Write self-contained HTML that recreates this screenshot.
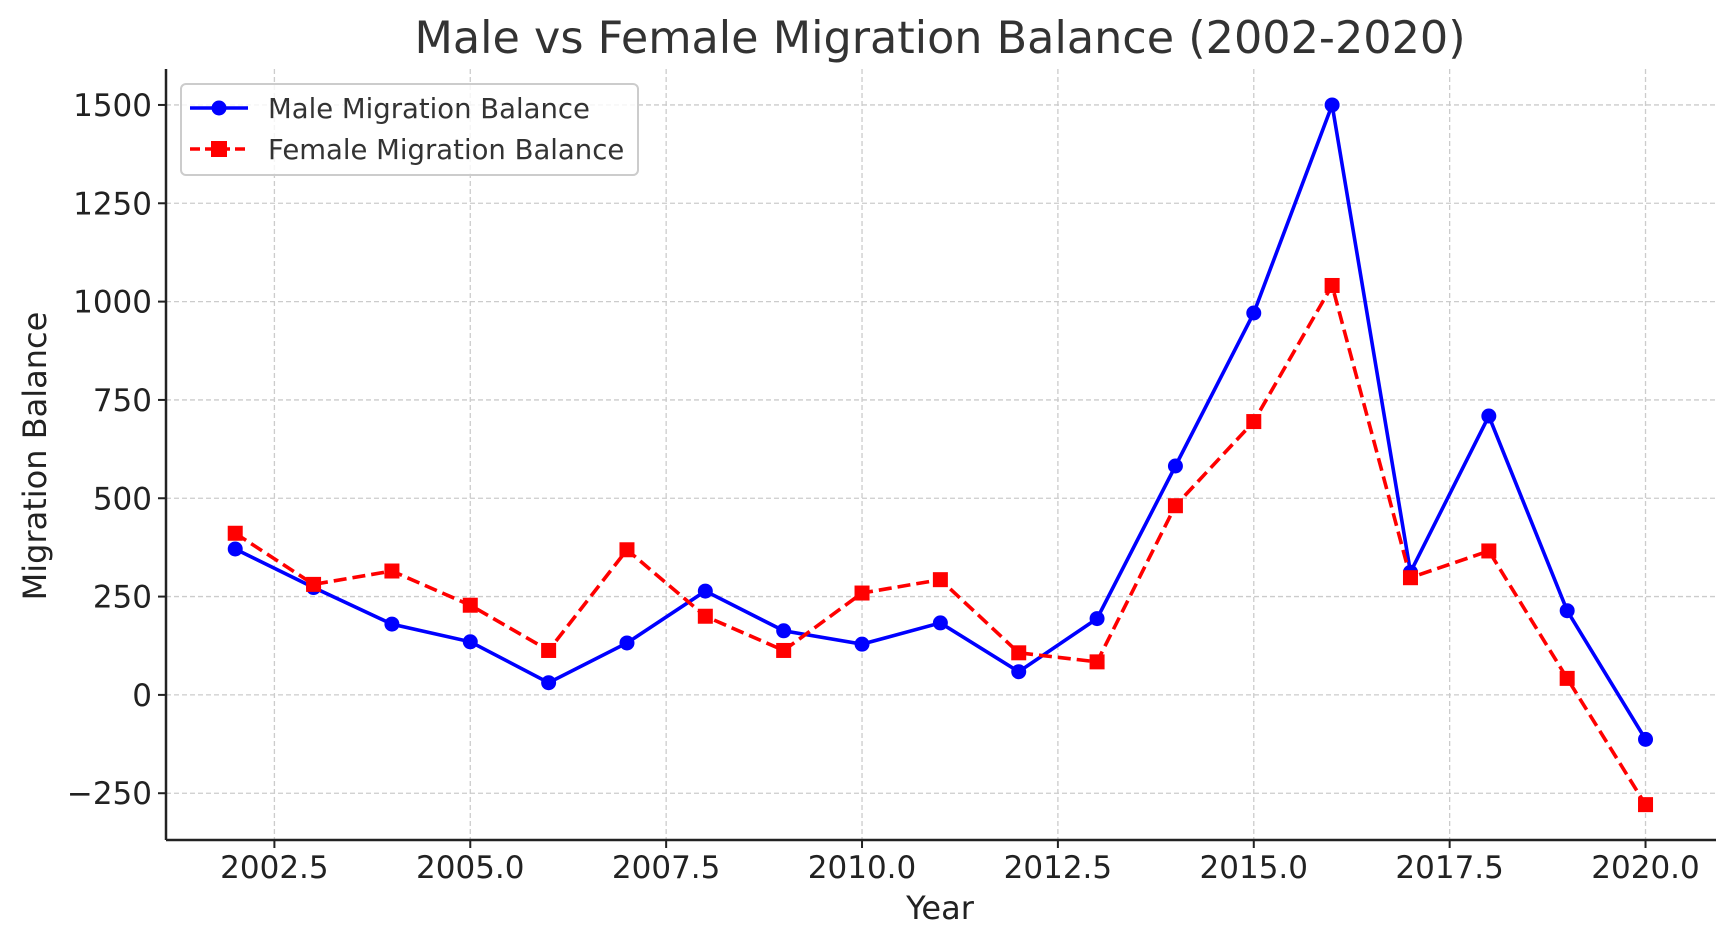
<!DOCTYPE html>
<html><head><meta charset="utf-8"><style>
body{margin:0;background:#fff}
svg{display:block;font-family:"DejaVu Sans","Liberation Sans",sans-serif}
</style></head><body>
<svg id="chart" width="1735" height="947">
<text x="940" y="53" font-size="44.5" text-anchor="middle" fill="#333">Male vs Female Migration Balance (2002-2020)</text>
<g id="grid"></g>
<g id="axes"></g>
<g id="series"></g>
<text x="940" y="919" font-size="32" text-anchor="middle" fill="#222">Year</text>
<text transform="translate(46,456) rotate(-90)" font-size="32" text-anchor="middle" fill="#222">Migration Balance</text>
<g>
<rect x="181" y="84" width="457" height="91" rx="5" fill="#fff" fill-opacity="0.8" stroke="#ccc" stroke-width="2"/>
<g>
<line x1="190" y1="108" x2="248" y2="108" stroke="#0000ff" stroke-width="3.5"/>
<circle cx="219" cy="108" r="7.5" fill="#0000ff"/>
<text x="268" y="118" font-size="27.5" fill="#333">Male Migration Balance</text></g>
<g>
<line x1="190" y1="149" x2="248" y2="149" stroke="#ff0000" stroke-width="3.5" stroke-dasharray="10,5"/>
<rect x="211" y="141" width="16" height="16" fill="#ff0000"/>
<text x="268" y="159" font-size="27.5" fill="#333">Female Migration Balance</text></g>
</g>
</svg>
<script>
const years=[2002,2003,2004,2005,2006,2007,2008,2009,2010,2011,2012,2013,2014,2015,2016,2017,2018,2019,2020];
const maleValues=[371,273,180,135,31,132,264,163,129,183,59,194,582,971,1500,312,709,214,-113];
const femaleValues=[411,281,315,228,113,369,200,113,259,293,107,84,481,695,1041,298,366,42,-279];
const xTicks=[2002.5,2005,2007.5,2010,2012.5,2015,2017.5,2020];
const xTickLabels=["2002.5","2005.0","2007.5","2010.0","2012.5","2015.0","2017.5","2020.0"];
const yTicks=[-250,0,250,500,750,1000,1250,1500];
const yTickLabels=["\u2212250","0","250","500","750","1000","1250","1500"];
const L=166,R=1716,T=69,B=840;
const xs=v=>274.4+(v-2002.5)*78.35;
const ys=v=>694.9-v*0.3933;
const NS="http://www.w3.org/2000/svg";
function mk(tag,attrs,parent){const e=document.createElementNS(NS,tag);for(const k in attrs)e.setAttribute(k,attrs[k]);parent.appendChild(e);return e;}
const grid=document.getElementById('grid'),axes=document.getElementById('axes'),series=document.getElementById('series');
xTicks.forEach((t,i)=>{
 const x=xs(t);
 const g=mk('line',{x1:x,x2:x,y1:T,y2:B,stroke:'#ccc','stroke-width':1.3,'stroke-dasharray':'5,3'},grid);
 
 
 mk('line',{x1:x,x2:x,y1:B,y2:B+8,stroke:'#222','stroke-width':2},axes);
 const tx=mk('text',{x:x,y:B+38,'font-size':31,'text-anchor':'middle',fill:'#222'},axes);
 tx.textContent=xTickLabels[i];
 
 
});
yTicks.forEach((t,i)=>{
 const y=ys(t);
 const g=mk('line',{x1:L,x2:R,y1:y,y2:y,stroke:'#ccc','stroke-width':1.3,'stroke-dasharray':'5,3'},grid);
 
 
 mk('line',{x1:L-8,x2:L,y1:y,y2:y,stroke:'#222','stroke-width':2},axes);
 const tx=mk('text',{x:L-14,y:y+11,'font-size':31,'text-anchor':'end',fill:'#222'},axes);
 tx.textContent=yTickLabels[i];
 
 
});
mk('line',{x1:L,x2:L,y1:T,y2:B,stroke:'#222','stroke-width':2.5},axes);
mk('line',{x1:L,x2:R,y1:B,y2:B,stroke:'#222','stroke-width':2.5},axes);
const mp=years.map((y,i)=>xs(y)+','+ys(maleValues[i])).join(' ');
const ml=mk('polyline',{points:mp,fill:'none',stroke:'#0000ff','stroke-width':3.6},series);


const fp=years.map((y,i)=>xs(y)+','+ys(femaleValues[i])).join(' ');
const fl=mk('polyline',{points:fp,fill:'none',stroke:'#ff0000','stroke-width':3.6,'stroke-dasharray':'13,6'},series);


years.forEach((y,i)=>{
 const c=mk('circle',{cx:xs(y),cy:ys(maleValues[i]),r:7.5,fill:'#0000ff'},series);
 
 
 const r=mk('rect',{x:xs(y)-7.5,y:ys(femaleValues[i])-7.5,width:15,height:15,fill:'#ff0000'},series);
 
 
});
</script>
</body></html>
